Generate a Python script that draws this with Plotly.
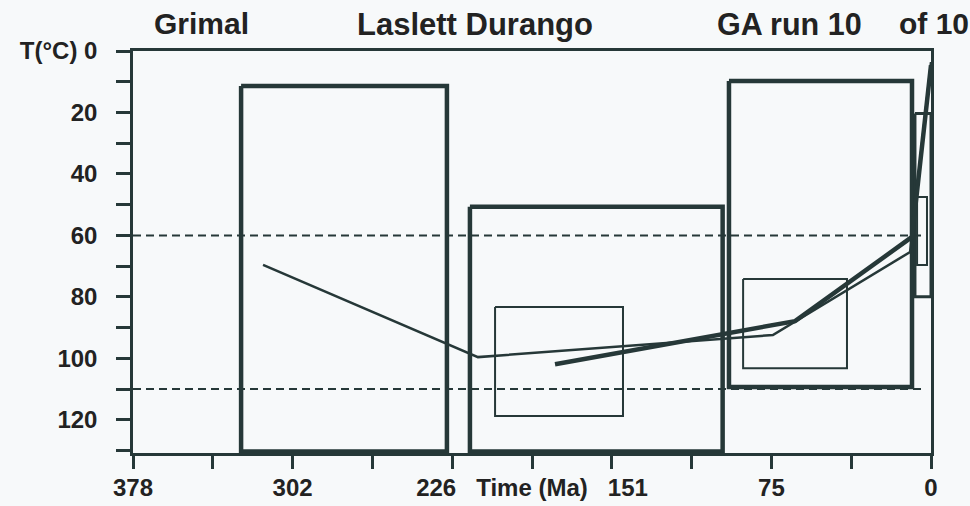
import plotly.graph_objects as go

# ---- data ----
# axis ticks
x_tick_vals = [378, 340.2, 302.4, 264.6, 226.8, 189, 151.2, 113.4, 75.6, 37.8, 0]
x_tick_text = ["378", "", "302", "", "",
               "226\u00a0\u00a0 Time\u00a0(Ma)\u00a0\u00a0 151", "", "", "75", "", "0"]
y_tick_vals = [0, 10, 20, 30, 40, 50, 60, 70, 80, 90, 100, 110, 120, 130]
y_tick_text = ["T(°C) 0", "", "20", "", "40", "", "60", "", "80", "", "100", "", "120", ""]

# constraint boxes (time in Ma, temperature in °C)
thick_box_ma_old = [326.8, 218.4, 95.7]
thick_box_ma_young = [229.3, 98.7, 9.0]
thick_box_t_top = [11.4, 50.7, 9.8]
thick_box_t_bottom = [130.3, 130.3, 109.3]

mid_box_ma_old = [7.6]
mid_box_ma_young = [0.0]
mid_box_t_top = [20.3]
mid_box_t_bottom = [80.0]

thin_box_ma_old = [206.5, 89.0, 6.6]
thin_box_ma_young = [145.9, 39.8, 1.9]
thin_box_t_top = [83.3, 74.2, 47.5]
thin_box_t_bottom = [118.8, 103.2, 69.6]

# time-temperature paths
thin_path_ma = [316.4, 214.6, 74.9, 9.9, 0.0]
thin_path_t = [69.6, 99.6, 92.4, 65.4, 3.6]
thick_path_ma = [178.1, 130.7, 64.4, 9.0, 0.0]
thick_path_t = [101.9, 96.0, 87.9, 60.5, 4.6]

# dashed reference levels
dashed_levels = [60, 110]
dashed_ma_span = [378, 2.8]

# titles
title_left = "Grimal"
title_mid = "Laslett Durango"
title_run = "GA run 10"
title_of = "of 10"

INK = "#263838"
BG = "#f7f9fa"
FONT = "Liberation Sans, Arial, sans-serif"

fig = go.Figure()


def add_boxes(olds, youngs, tops, bottoms, width):
    for o, y, t, b in zip(olds, youngs, tops, bottoms):
        fig.add_trace(go.Scatter(
            x=[o, y, y, o, o], y=[t, t, b, b, t], mode="lines",
            line=dict(color=INK, width=width), hoverinfo="skip", showlegend=False))


for lvl in dashed_levels:
    fig.add_trace(go.Scatter(
        x=dashed_ma_span, y=[lvl, lvl], mode="lines",
        line=dict(color=INK, width=2, dash="8px,5px"),
        hoverinfo="skip", showlegend=False))

add_boxes(thick_box_ma_old, thick_box_ma_young, thick_box_t_top, thick_box_t_bottom, 4.5)
add_boxes(mid_box_ma_old, mid_box_ma_young, mid_box_t_top, mid_box_t_bottom, 3)
add_boxes(thin_box_ma_old, thin_box_ma_young, thin_box_t_top, thin_box_t_bottom, 2)

fig.add_trace(go.Scatter(x=thin_path_ma, y=thin_path_t, mode="lines",
                         line=dict(color=INK, width=2.5), showlegend=False))
fig.add_trace(go.Scatter(x=thick_path_ma, y=thick_path_t, mode="lines",
                         line=dict(color=INK, width=4.5), showlegend=False))

tickfont = dict(family=FONT, size=24, color="#222222", weight="bold")

fig.update_xaxes(
    range=[378, 0], tickmode="array", tickvals=x_tick_vals, ticktext=x_tick_text,
    ticks="outside", ticklen=13, tickwidth=2.5, tickcolor=INK,
    showline=True, linecolor=INK, linewidth=2.5, mirror=True, automargin=False,
    showgrid=False, zeroline=False, tickfont=tickfont, ticklabelstandoff=-2,
)
fig.update_yaxes(
    range=[130.8, 0], tickmode="array", tickvals=y_tick_vals, ticktext=y_tick_text,
    ticks="outside", ticklen=14, tickwidth=2.5, tickcolor=INK,
    showline=True, linecolor=INK, linewidth=2.5, mirror=True, automargin=False,
    showgrid=False, zeroline=False, tickfont=tickfont, ticklabelstandoff=14,
)

W, H = 970, 506
L, R, T, B = 133, 39, 51, 53
pw, ph = W - L - R, H - T - B


def px_to_paper(px, py):
    return (px - L) / pw, (H - B - py) / ph


for text, px, py, size in [(title_left, 152, 24, 30), (title_mid, 355, 25, 31),
                           (title_run, 715, 24, 30.5), (title_of, 897, 24, 30)]:
    xx, yy = px_to_paper(px, py)
    fig.add_annotation(text=text, x=xx, y=yy, xref="paper", yref="paper",
                       xanchor="left", yanchor="middle", showarrow=False,
                       font=dict(family=FONT, size=size, color="#222222", weight="bold"))

fig.update_layout(
    width=W, height=H, margin=dict(l=L, r=R, t=T, b=B),
    paper_bgcolor=BG, plot_bgcolor=BG, showlegend=False,
)

fig.write_html("out.html", config={"displayModeBar": False},
               post_script="document.body.style.margin='0';document.body.style.overflow='hidden';")
